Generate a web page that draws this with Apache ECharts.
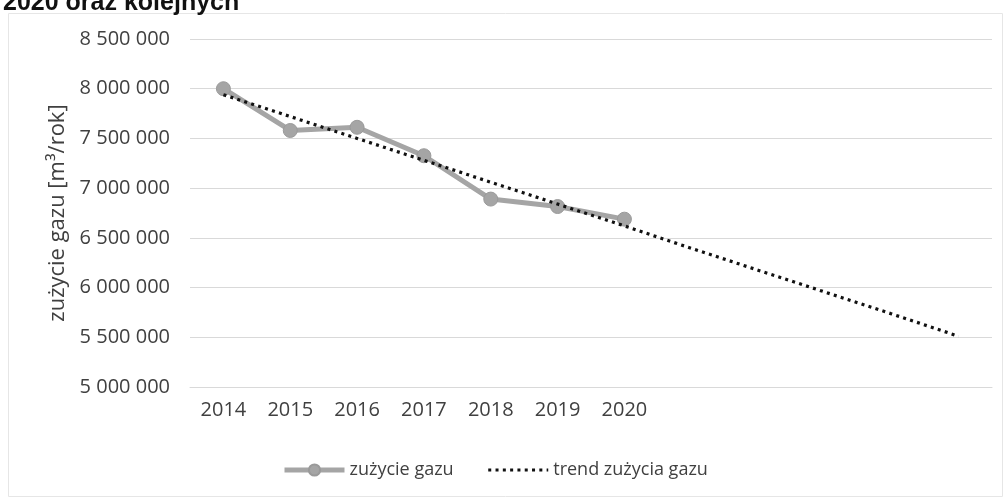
<!DOCTYPE html>
<html>
<head>
<meta charset="utf-8">
<script src="https://cdn.jsdelivr.net/npm/echarts@6/dist/echarts.min.js"></script>
<style>html,body{margin:0;padding:0;background:#fff}#c{width:1004px;height:499px}</style>
</head>
<body>
<div id="c"></div>
<script>
var years = ['2014','2015','2016','2017','2018','2019','2020','2021','2022','2023','2024','2025'];
var tickLabels = ['2014','2015','2016','2017','2018','2019','2020','','','','',''];
var gasUse = [8000000, 7580000, 7612000, 7326000, 6890000, 6815000, 6688000, null, null, null, null, null];
var gasTrend = [7940000, 7720000, 7500000, 7280000, 7060000, 6840000, 6620000, 6395000, 6175000, 5955000, 5735000, 5510000];
var yTicks = [5000000, 5500000, 6000000, 6500000, 7000000, 7500000, 8000000, 8500000];

var chart = echarts.init(document.getElementById('c'));
var fam = '"Open Sans", sans-serif';
function fmt(v){ return String(v).replace(/\B(?=(\d{3})+(?!\d))/g, ' '); }
chart.setOption({
  animation: false,
  textStyle: { fontFamily: fam },
  title: {
    text: '2020 oraz kolejnych',
    left: -2, top: -14,
    textStyle: { fontFamily: '"Liberation Sans", Arial, sans-serif', fontWeight: 'bold', fontSize: 25, color: '#111' }
  },
  graphic: [{
    type: 'rect', shape: { x: 8.5, y: 13.5, width: 994, height: 483 },
    style: { fill: 'none', stroke: '#e6e6e6', lineWidth: 1 }, silent: true, z: -1
  }],
  grid: { left: 190, right: 12, top: 39, bottom: 112, containLabel: false },
  legend: {
    left: 277, top: 456,
    itemWidth: 60, itemHeight: 14, itemGap: 33,
    textStyle: { fontFamily: fam, fontSize: 18, color: '#404040' },
    data: [
      { name: 'zużycie gazu', lineStyle: { width: 5, color: '#a5a5a5' } },
      { name: 'trend zużycia gazu', itemStyle: { opacity: 0 }, lineStyle: { width: 3.2 } }
    ]
  },
  xAxis: {
    type: 'category',
    data: years,
    boundaryGap: true,
    axisLine: { show: true, lineStyle: { color: '#d9d9d9', width: 1 } },
    axisTick: { show: false },
    axisLabel: {
      margin: 13, fontSize: 20, color: '#404040', fontFamily: fam, interval: 0,
      formatter: function (v, i) { return tickLabels[i]; }
    },
    splitLine: { show: false }
  },
  yAxis: {
    type: 'value',
    min: yTicks[0], max: yTicks[yTicks.length - 1], interval: 500000,
    name: 'zużycie gazu [m³/rok]',
    nameLocation: 'middle',
    nameGap: 120,
    nameRotate: 90,
    nameTextStyle: { fontSize: 22, color: '#404040', fontFamily: fam },
    axisLine: { show: false },
    axisTick: { show: false },
    axisLabel: { margin: 20, fontSize: 20, color: '#404040', fontFamily: fam, formatter: fmt },
    splitLine: { lineStyle: { color: '#d9d9d9', width: 1 } }
  },
  series: [
    {
      name: 'zużycie gazu',
      type: 'line',
      data: gasUse,
      color: '#a5a5a5',
      symbol: 'circle',
      symbolSize: 14,
      showSymbol: true,
      lineStyle: { color: '#a5a5a5', width: 5 },
      itemStyle: { color: '#a5a5a5', borderColor: '#9a9a9a', borderWidth: 1 },
      z: 2
    },
    {
      name: 'trend zużycia gazu',
      type: 'line',
      data: gasTrend,
      color: '#111',
      symbol: 'none',
      showSymbol: false,
      lineStyle: { color: '#111', width: 3.2, type: [3, 4.3], cap: 'butt' },
      z: 3
    }
  ]
});
</script>
</body>
</html>
